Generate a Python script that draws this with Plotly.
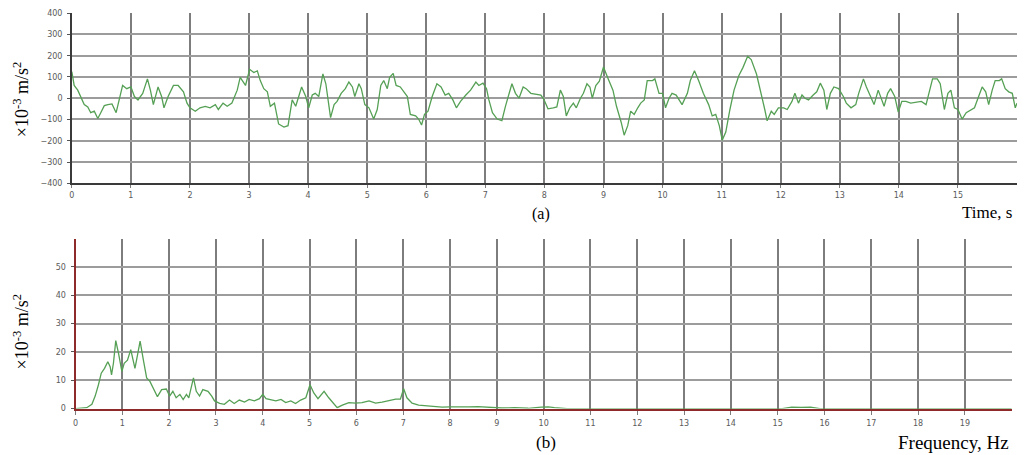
import plotly.graph_objects as go

# ---------------- (a) time signal ----------------
time_s = [0.0, 0.04, 0.10, 0.15, 0.21, 0.27, 0.32, 0.38, 0.44, 0.49,
          0.55, 0.61, 0.68, 0.75, 0.81, 0.86, 0.93, 1.00, 1.06, 1.12,
          1.20, 1.28, 1.33, 1.38, 1.46, 1.52, 1.56, 1.63, 1.72, 1.80,
          1.89, 1.95, 2.00, 2.09, 2.17, 2.26, 2.34, 2.43, 2.48, 2.56,
          2.63, 2.71, 2.80, 2.85, 2.94, 3.01, 3.08, 3.14, 3.19, 3.25,
          3.31, 3.36, 3.43, 3.50, 3.59, 3.66, 3.73, 3.79, 3.89, 3.96,
          4.01, 4.07, 4.12, 4.18, 4.25, 4.30, 4.38, 4.44, 4.49, 4.56,
          4.63, 4.69, 4.75, 4.79, 4.86, 4.90, 4.96, 5.03, 5.11, 5.17,
          5.23, 5.28, 5.34, 5.38, 5.44, 5.49, 5.56, 5.62, 5.68, 5.73,
          5.82, 5.87, 5.92, 5.97, 6.03, 6.10, 6.18, 6.25, 6.32, 6.38,
          6.45, 6.51, 6.58, 6.67, 6.75, 6.84, 6.89, 6.96, 7.02, 7.06,
          7.12, 7.20, 7.28, 7.34, 7.40, 7.45, 7.51, 7.57, 7.64, 7.69,
          7.77, 7.85, 7.94, 7.99,
          8.06, 8.15, 8.21, 8.27, 8.32, 8.37, 8.43, 8.49, 8.54, 8.61,
          8.66, 8.72, 8.77, 8.81, 8.87, 8.93, 9.00, 9.07, 9.16, 9.22,
          9.30, 9.35, 9.41, 9.46, 9.52, 9.58, 9.63, 9.69, 9.74, 9.83,
          9.87, 9.94, 10.00, 10.05, 10.11, 10.16, 10.23, 10.33, 10.42, 10.47,
          10.54, 10.61, 10.69, 10.78, 10.84, 10.90, 10.96, 11.01, 11.07, 11.14,
          11.21, 11.29, 11.36, 11.44, 11.50, 11.59, 11.67, 11.73, 11.77, 11.84,
          11.89, 11.96,
          12.05, 12.11, 12.19, 12.24, 12.30, 12.36, 12.41, 12.47, 12.55, 12.61,
          12.67, 12.73, 12.78, 12.84, 12.90, 12.98, 13.06, 13.11, 13.19, 13.27,
          13.32, 13.40, 13.45, 13.52, 13.58, 13.65, 13.69, 13.75, 13.81, 13.86,
          13.93, 13.99, 14.05, 14.12, 14.20, 14.29, 14.38, 14.46, 14.52, 14.57,
          14.65, 14.70, 14.77, 14.83, 14.88, 14.94, 15.00, 15.07, 15.14, 15.22,
          15.28, 15.35, 15.41, 15.47, 15.52, 15.58, 15.63, 15.70, 15.74, 15.80,
          15.86, 15.92, 15.97, 16.0]

accel_mms2 = [125, 60, 38, 8, -30, -41, -68, -61, -95, -68,
              -35, -30, -27, -68, 8, 60, 45, 53, 8, -8,
              23, 91, 38, -30, 53, 8, -45, 8, 60, 60,
              30, -23, -45, -61, -45, -38, -45, -30, -53, -23,
              -38, -23, 38, 98, 60, 136, 121, 129, 83, 45,
              30, -38, -23, -121, -136, -129, -8, -38, 53, 8,
              -45, 15, 23, 8, 114, 68, -91, -30, -15, 23,
              45, 76, 53, 8, 68, 45, -30, -45, -98, -53,
              60, 83, 45, 98, 117, 60, 53, 30, 8, -76,
              -83, -98, -126, -76, -61, 8, 68, 53, 15, 23,
              -8, -45, -15, 15, 38, 76, 60, 71, 45, -8,
              -68, -98, -106, -38, 23, 68, 23, 0, 53, 45,
              23, 20, 15, -5,
              -50, -45, -41, 38, 8, -83, -45, -23, -45, 0,
              23, 68, 53, 0, 60, 80, 147, 98, 38, -38,
              -114, -174, -129, -61, -76, -45, -23, -8, 83, 83,
              91, 23, 23, -45, 0, 23, 15, -30, 23, 83,
              129, 83, 23, -30, -83, -76, -129, -197, -159, -53,
              38, 106, 144, 197, 182, 114, 23, -53, -106, -61,
              -76, -45,
              -45, -53, -15, 23, -23, 15, 0, -8, 15, 30,
              71, 38, -53, 23, 53, 45, 8, -23, -45, -30,
              23, 91, 53, 8, -30, 38, 8, -38, 23, 45,
              8, -65, -15, -15, -23, -20, -15, -30, 38, 91,
              91, 68, -53, 23, 38, -45, -53, -98, -68, -53,
              -45, 8, 53, 30, -30, 38, 83, 83, 91, 45,
              30, 23, -45, -23]

time_ticks = list(range(0, 16))
accel_ticks = [-400, -300, -200, -100, 0, 100, 200, 300, 400]

# ---------------- (b) spectrum ----------------
freq_hz = [0.0, 0.24, 0.35, 0.42, 0.49, 0.55, 0.62, 0.69, 0.74, 0.77,
           0.81, 0.86, 0.92, 0.99, 1.04, 1.11, 1.18, 1.23, 1.27, 1.33,
           1.38, 1.45, 1.52, 1.59, 1.66, 1.75, 1.84, 1.94, 2.01, 2.08,
           2.15, 2.23, 2.30, 2.37, 2.42, 2.47, 2.52, 2.58, 2.65, 2.72,
           2.83, 2.91, 2.97, 3.08, 3.18, 3.29, 3.39, 3.50, 3.61, 3.71,
           3.82, 3.93, 4.00, 4.07, 4.17, 4.28, 4.39, 4.49, 4.60, 4.70,
           4.81, 4.92, 5.01, 5.09, 5.18, 5.31, 5.41, 5.52, 5.59, 5.70,
           5.84, 5.98, 6.12, 6.27, 6.41, 6.55, 6.70, 6.84, 6.94, 7.01,
           7.08, 7.19, 7.33, 7.51, 7.69, 7.83, 8.00, 8.18, 8.40, 8.60,
           8.80, 8.95, 9.10, 9.38, 9.67, 9.95, 10.10, 10.23, 10.50, 15.10,
           15.30, 15.50, 15.70, 15.90, 20.0]

amp_mms2 = [0, 0.3, 1.5, 4.4, 8.4, 12.5, 14.2, 16.5, 14.8, 11.9,
            16, 24, 19.4, 13.1, 16, 17.1, 20.8, 17.7, 14.2, 19.4,
            23.8, 17.1, 10.8, 9.6, 7.3, 4.2, 6.7, 6.9, 4.4, 6.1,
            3.8, 5, 3.2, 5, 3.8, 7.9, 10.8, 6.1, 4.4, 6.7,
            6.1, 4.4, 2.7, 1.8, 1.5, 3, 1.8, 3, 2.3, 3.2,
            2.7, 3.5, 5, 3.5, 3, 2.7, 3.2, 2.1, 2.7, 1.8,
            3, 3.8, 8.4, 5.5, 3.5, 6.1, 3.8, 1.5, 0.3, 1.2,
            2.1, 1.9, 2.1, 2.7, 1.9, 2.3, 2.8, 3.3, 3.3, 7,
            3.8, 1.9, 1.2, 0.9, 0.7, 0.5, 0.6, 0.5, 0.6, 0.7,
            0.5, 0.5, 0.2, 0.3, 0.1, 0.5, 0.6, 0.3, 0, 0,
            0.5, 0.4, 0.5, 0, 0]

freq_ticks = list(range(0, 20))
amp_ticks = [0, 10, 20, 30, 40, 50]

# The page body has an 8px margin, so the figure is drawn 8px in from the corner.
OFF = 8
W, H = 1025 - OFF, 455 - OFF
def px(x):
    return (x - OFF) / W
def py(y):
    return 1 - (y - OFF) / H

GREEN = "#55a055"
VGRID = "#7d7d7d"
HGRID = "#9c9c9c"
RED = "#8e2a2a"
TICKFONT = dict(family="DejaVu Sans", size=8, color="#5a5a5a")
SERIF = "Liberation Serif"

fig = go.Figure()
fig.add_trace(go.Scatter(x=time_s, y=accel_mms2, mode="lines",
                         line=dict(color=GREEN, width=1.3),
                         xaxis="x", yaxis="y", hoverinfo="skip"))
fig.add_trace(go.Scatter(x=freq_hz, y=amp_mms2, mode="lines",
                         line=dict(color=GREEN, width=1.3),
                         xaxis="x2", yaxis="y2", hoverinfo="skip"))

fig.update_layout(
    width=W, height=H,
    margin=dict(l=0, r=0, t=0, b=0),
    paper_bgcolor="white", plot_bgcolor="white",
    showlegend=False,
    xaxis=dict(domain=[px(69), px(1017)], range=[0, 16], anchor="y",
               tickvals=time_ticks, showgrid=True, gridcolor=VGRID, gridwidth=1.5,
               showline=True, linecolor="#3a3a3a", linewidth=1.5,
               ticks="outside", ticklen=3, tickcolor=VGRID,
               tickfont=TICKFONT, zeroline=False, fixedrange=True),
    yaxis=dict(domain=[py(182.8), py(9.2)], range=[-400, 400], anchor="x",
               tickvals=accel_ticks, showgrid=True, gridcolor=HGRID, gridwidth=1.5,
               showline=True, linecolor="#3a3a3a", linewidth=1.5,
               ticks="outside", ticklen=3, tickcolor="#555555",
               ticklabelstandoff=3, ticklabeloverflow="allow",
               tickfont=TICKFONT, zeroline=False, fixedrange=True),
    xaxis2=dict(domain=[px(72.7), px(1011.7)], range=[0, 20], anchor="y2",
                tickvals=freq_ticks, showgrid=True, gridcolor=VGRID, gridwidth=1.5,
                showline=True, linecolor=RED, linewidth=2,
                ticks="outside", ticklen=4, tickcolor=VGRID,
                ticklabelstandoff=2,
                tickfont=TICKFONT, zeroline=False, fixedrange=True),
    yaxis2=dict(domain=[py(412.7), py(239.3)], range=[0, 60], anchor="x2",
                tickvals=amp_ticks, showgrid=True, gridcolor=HGRID, gridwidth=1.5,
                showline=True, linecolor=RED, linewidth=2,
                ticks="outside", ticklen=3, tickcolor="#555555",
                ticklabelstandoff=3,
                tickfont=TICKFONT, zeroline=False, fixedrange=True),
)

ann = [
    dict(text="(a)", x=px(540), y=py(214), size=16, xanchor="center"),
    dict(text="Time, s", x=px(1014), y=py(213), size=17, xanchor="right"),
    dict(text="(b)", x=px(545), y=py(447), size=17, xanchor="center"),
    dict(text="Frequency, Hz", x=px(1011), y=py(447), size=19, xanchor="right"),
]
for a in ann:
    fig.add_annotation(text=a["text"], x=a["x"], y=a["y"], xref="paper", yref="paper",
                       xanchor=a["xanchor"], yanchor="middle", showarrow=False,
                       font=dict(family=SERIF, size=a["size"], color="black"))

for yc in (97, 334):
    fig.add_annotation(text="×10<sup>-3</sup> m/s<sup>2</sup>", x=px(18), y=py(yc),
                       xref="paper", yref="paper", xanchor="center", yanchor="middle",
                       textangle=-90, showarrow=False,
                       font=dict(family=SERIF, size=18, color="black"))

fig.write_html("out.html")
